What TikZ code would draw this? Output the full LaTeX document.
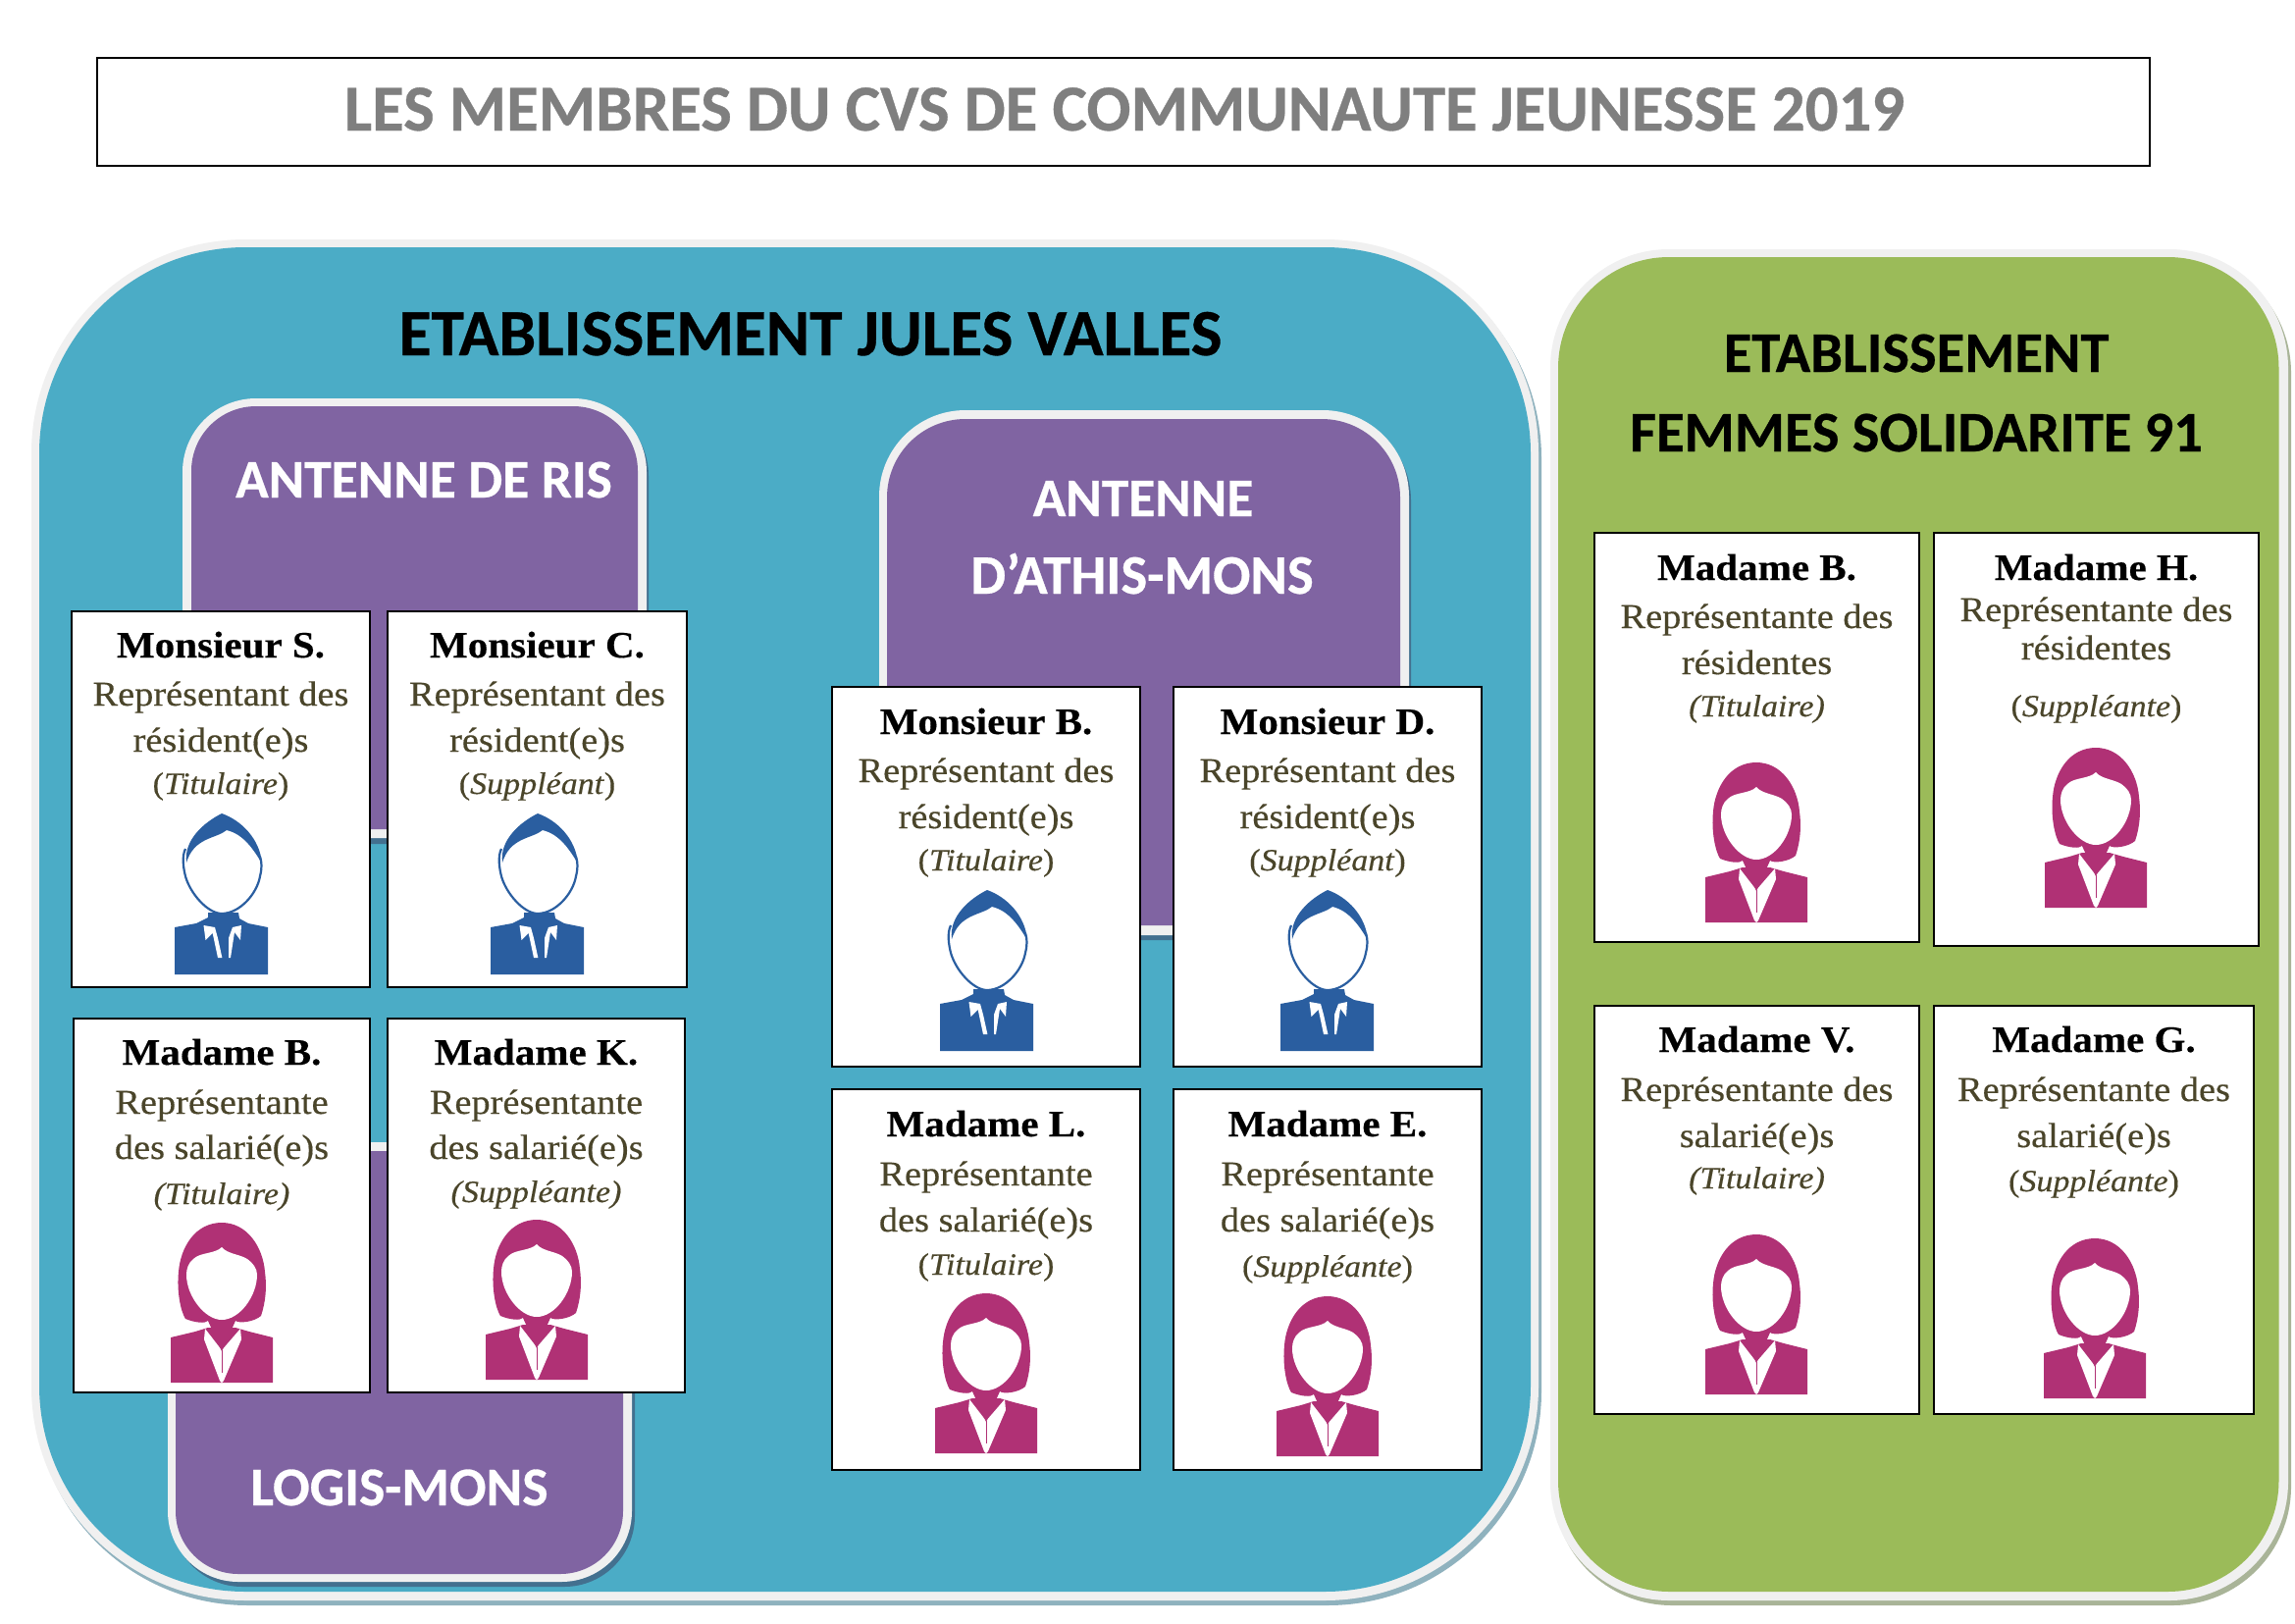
\documentclass[tikz,border=0pt]{standalone}
\usepackage{fontspec}
\setmainfont{Liberation Serif}[FakeStretch=1.08,FakeBold=0.35]
\newfontfamily\headfont{Carlito}[FakeBold=0.5]
\definecolor{panelblue}{HTML}{4BACC6}
\definecolor{panelgreen}{HTML}{9BBB59}
\definecolor{panelpurple}{HTML}{8064A2}
\definecolor{panelrim}{HTML}{F0F0F0}
\definecolor{blueshade}{HTML}{8FB2BE}
\definecolor{greenshade}{HTML}{A9B498}
\definecolor{purpleshade}{HTML}{43708F}
\definecolor{olivetext}{HTML}{4A452A}
\definecolor{titlegrey}{HTML}{7F7F7F}
\definecolor{manblue}{HTML}{2A5EA0}
\definecolor{womanred}{HTML}{B03175}
\tikzset{
  cardbox/.style={draw=black,line width=2pt,fill=white,inner sep=0pt,outer sep=0pt},
  nameline/.style={anchor=base,inner sep=0pt,text=black,font=\fontsize{38}{40}\selectfont\bfseries},
  repline/.style={anchor=base,inner sep=0pt,text=olivetext,font=\fontsize{35.5}{38}\selectfont},
  subline/.style={anchor=base,inner sep=0pt,text=olivetext,font=\fontsize{31.5}{36}\selectfont},
  headline/.style={anchor=base,inner sep=0pt,font=\headfont\bfseries\fontsize{#1}{#1}\selectfont},
  man/.pic={
    \fill[manblue] (0,170) -- (0,122) -- (22,118) -- (34,112) -- (34,107) -- (65,107) -- (66,113) -- (75,118) -- (95,122) -- (95,170) -- cycle;
    \fill[white] (29.5,120) -- (31.5,135) -- (38.7,128) -- (44,153) -- (48.4,153) -- (44,133) -- (41,122) -- cycle;
    \fill[white] (68,120) -- (67,135) -- (61,127) -- (57,153) -- (55,153) -- (55,133) -- (59,122) -- cycle;
    \fill[white] (9,57) .. controls (9,85) and (30,108) .. (48,108) .. controls (66,108) and (88,85) .. (88,57) .. controls (88,30) and (70,20) .. (48,20) .. controls (26,20) and (9,30) .. (9,57) -- cycle;
    \draw[manblue,line width=2.2pt] (11,42) .. controls (7,50) and (9,62) .. (11,70) .. controls (16,88) and (34,108) .. (48,108) .. controls (66,108) and (84,88) .. (87,70) .. controls (89,62) and (89,56) .. (87,50);
    \fill[manblue] (12,56) .. controls (9,33) and (30,15) .. (48,6) .. controls (68,13) and (87,32) .. (89,57) .. controls (80,42) and (70,27) .. (53,23) .. controls (42,32) and (20,30) .. (12,56) -- cycle;
  },
  woman/.pic={
    \fill[womanred] (0,168) -- (0,122) -- (25,116) -- (38,112) -- (66,112) -- (80,116) -- (104,122) -- (104,168) -- cycle;
    \fill[white] (35,113) -- (52,135) -- (71,113) -- (72,124) -- (54,166) -- (52,168) -- (50,166) -- (34,124) -- cycle;
    \draw[womanred,line width=1pt] (52,135) -- (52,158);
    \fill[womanred] (52,5) .. controls (25,5) and (10,30) .. (8,55) .. controls (6,75) and (10,95) .. (15,103) .. controls (25,107) and (35,108) .. (38,105) -- (52,136) -- (66,105) .. controls (70,108) and (85,106) .. (92,100) .. controls (97,85) and (98,70) .. (96,55) .. controls (94,30) and (78,5) .. (52,5) -- cycle;
    \fill[white] (52,30) .. controls (45,37) and (30,35) .. (23,42) .. controls (18,46) and (16,52) .. (16,58) .. controls (16,80) and (35,104) .. (52,104) .. controls (70,104) and (88,80) .. (88,58) .. controls (88,52) and (84,46) .. (78,42) .. controls (70,37) and (58,37) .. (52,30) -- cycle;
  }
}
\newcommand{\cardat}[5]{%
  \pgfmathsetmacro{\cw}{#4-#2}\pgfmathsetmacro{\ch}{#5-#3}%
  \pgfmathsetmacro{\cx}{(#2+#4)/2}\pgfmathsetmacro{\cy}{(#3+#5)/2}%
  \node[cardbox,minimum width=\cw pt,minimum height=\ch pt] (#1) at (\cx,\cy) {};}
\newcommand{\cardlines}[8]{%
  \node[nameline] (#1-n) at (#1.north |- 0,#6) {#2};
  \node[repline] (#1-a) at (#1.north |- 0,#7) {#3};
  \node[repline] (#1-b) at (#1.north |- 0,#8) {#4};
  \node[subline] (#1-c) at (#1.north |- 0,\thirdy) {#5};}
\begin{document}
\begin{tikzpicture}[x=1pt,y=-1pt]
\useasboundingbox (0,0) rectangle (2339,1654);
\fill[white] (0,0) rectangle (2339,1654);
% title
\node[draw=black,line width=2.5pt,fill=white,minimum width=2092pt,minimum height=110pt,inner sep=0pt] (titlebox) at (1145,114) {};
\node[headline=66.8,text=titlegrey] (title) at (1146,133) {LES MEMBRES DU CVS DE COMMUNAUTE JEUNESSE 2019};
% blue panel
\fill[blueshade,rounded corners=218pt] (35,249) rectangle (1571,1636);
\fill[panelrim,rounded corners=218pt] (32,244) rectangle (1568,1631);
\fill[panelblue,rounded corners=210pt] (40,252) rectangle (1560,1622);
% green panel
\fill[greenshade,rounded corners=121pt] (1583,259) rectangle (2335,1636);
\fill[panelrim,rounded corners=121pt] (1580,254) rectangle (2332,1631);
\fill[panelgreen,rounded corners=113pt] (1588,262) rectangle (2322.5,1622);
% purple panels
\fill[purpleshade,rounded corners=75pt] (190,410) rectangle (661,860);
\fill[panelrim,rounded corners=75pt] (186,406) rectangle (659,854);
\fill[panelpurple,rounded corners=66pt] (195,414) rectangle (650,845);
\fill[purpleshade,rounded corners=72pt] (175,1169) rectangle (647,1617);
\fill[panelrim,rounded corners=72pt] (171,1164) rectangle (644,1612);
\fill[panelpurple,rounded corners=64pt] (179,1173) rectangle (635,1604);
\fill[purpleshade,rounded corners=88pt] (900,422) rectangle (1438,958);
\fill[panelrim,rounded corners=88pt] (896,418) rectangle (1436,953);
\fill[panelpurple,rounded corners=80pt] (904,427) rectangle (1427,943);
% headings
\node[headline=67.3,text=black] (hblue) at (826,362) {ETABLISSEMENT JULES VALLES};
\node[headline=58.5,text=black] (hgreenA) at (1953,379) {ETABLISSEMENT};
\node[headline=58.5,text=black] (hgreenB) at (1953,460) {FEMMES SOLIDARITE 91};
\node[headline=55.4,text=white] (hris) at (432,507) {ANTENNE DE RIS};
\node[headline=55.4,text=white] (hathA) at (1165,526) {ANTENNE};
\node[headline=56.8,text=white] (hathB) at (1164,605) {D’ATHIS-MONS};
\node[headline=55.7,text=white] (hlogis) at (407,1534) {LOGIS-MONS};
% left cards
\cardat{cS}{73}{623}{377}{1006}
\cardat{cC}{395}{623}{700}{1006}
\cardat{cB}{75}{1038}{377}{1419}
\cardat{cK}{395}{1038}{698}{1419}
\def\thirdy{809}
\cardlines{cS}{Monsieur S.}{Représentant des}{résident(e)s}{(\textit{Titulaire})}{670}{719}{766}
\cardlines{cC}{Monsieur C.}{Représentant des}{résident(e)s}{(\textit{Suppléant})}{670}{719}{766}
\def\thirdy{1227}
\cardlines{cB}{Madame B.}{Représentante}{des salarié(e)s}{\textit{(Titulaire)}}{1085}{1135}{1181}
\def\thirdy{1225}
\cardlines{cK}{Madame K.}{Représentante}{des salarié(e)s}{\textit{(Suppléante)}}{1085}{1135}{1181}
\pic at (178,823) {man};
\pic at (500,823) {man};
\pic at (174,1241) {woman};
\pic at (495,1238) {woman};
% middle cards
\cardat{cMB}{848}{700}{1162}{1087}
\cardat{cMD}{1196}{700}{1510}{1087}
\cardat{cML}{848}{1110}{1162}{1498}
\cardat{cME}{1196}{1110}{1510}{1498}
\def\thirdy{887}
\cardlines{cMB}{Monsieur B.}{Représentant des}{résident(e)s}{(\textit{Titulaire})}{748}{797}{844}
\cardlines{cMD}{Monsieur D.}{Représentant des}{résident(e)s}{(\textit{Suppléant})}{748}{797}{844}
\def\thirdy{1299}
\cardlines{cML}{Madame L.}{Représentante}{des salarié(e)s}{(\textit{Titulaire})}{1158}{1208}{1255}
\def\thirdy{1301}
\cardlines{cME}{Madame E.}{Représentante}{des salarié(e)s}{(\textit{Suppléante})}{1158}{1208}{1255}
\pic at (958,901) {man};
\pic at (1305,901) {man};
\pic at (953,1313) {woman};
\pic at (1301,1316) {woman};
% right cards
\cardat{cRB}{1625}{543}{1956}{960}
\cardat{cRH}{1971}{543}{2302}{964}
\cardat{cRV}{1625}{1025}{1956}{1441}
\cardat{cRG}{1971}{1025}{2297}{1441}
\def\thirdy{730}
\cardlines{cRB}{Madame B.}{Représentante des}{résidentes}{\textit{(Titulaire)}}{591}{640}{687}
\cardlines{cRH}{Madame H.}{Représentante des}{résidentes}{(\textit{Suppléante})}{591}{633}{672}
\def\thirdy{1211}
\cardlines{cRV}{Madame V.}{Représentante des}{salarié(e)s}{\textit{(Titulaire)}}{1072}{1122}{1169}
\def\thirdy{1214}
\cardlines{cRG}{Madame G.}{Représentante des}{salarié(e)s}{(\textit{Suppléante})}{1072}{1122}{1169}
\pic at (1738,772) {woman};
\pic at (2084,757) {woman};
\pic at (1738,1253) {woman};
\pic at (2083,1257) {woman};
\end{tikzpicture}
\end{document}
